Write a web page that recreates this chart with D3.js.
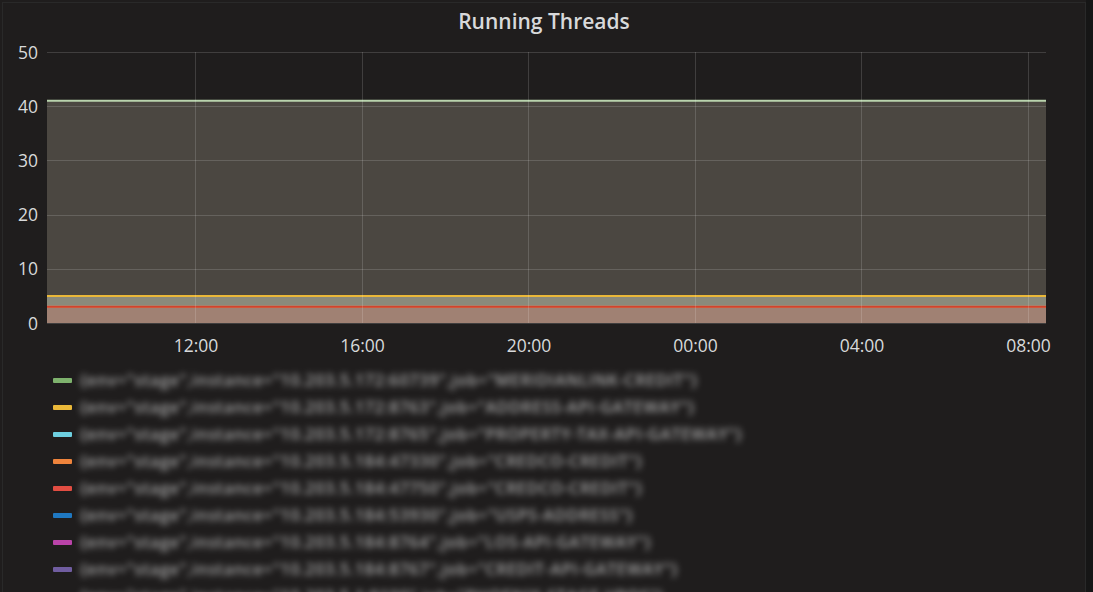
<!DOCTYPE html>
<html><head><meta charset="utf-8">
<script src="https://cdnjs.cloudflare.com/ajax/libs/d3/7.8.5/d3.min.js"></script>
<style>
html,body{margin:0;padding:0;background:#161616;}
svg{display:block;}
</style></head>
<body>
<svg id="chart" width="1093" height="592"></svg>
<script>
// ---- data ----
const title = "Running Threads";
const times = ["2019-01-01T08:26","2019-01-01T10:26","2019-01-01T12:26","2019-01-01T14:26","2019-01-01T16:26","2019-01-01T18:26","2019-01-01T20:26","2019-01-01T22:26","2019-01-02T00:26","2019-01-02T02:26","2019-01-02T04:26","2019-01-02T06:26","2019-01-02T08:26"];
const seriesNames = [
  '{env="stage",instance="10.203.5.172:60739",job="MERIDIANLINK-CREDIT"}',
  '{env="stage",instance="10.203.5.172:8763",job="ADDRESS-API-GATEWAY"}',
  '{env="stage",instance="10.203.5.172:8765",job="PROPERTY-TAX-API-GATEWAY"}',
  '{env="stage",instance="10.203.5.184:47330",job="CREDCO-CREDIT"}',
  '{env="stage",instance="10.203.5.184:47750",job="CREDCO-CREDIT"}',
  '{env="stage",instance="10.203.5.184:53930",job="USPS-ADDRESS"}',
  '{env="stage",instance="10.203.5.184:8764",job="LOS-API-GATEWAY"}',
  '{env="stage",instance="10.203.5.184:8767",job="CREDIT-API-GATEWAY"}',
  '{env="stage",instance="10.203.5.1:9100",job="PHOENIX-STAGE-VPOS"}'
];
const s1 = [41,41,41,41,41,41,41,41,41,41,41,41,41];
const s2 = [5,5,5,5,5,5,5,5,5,5,5,5,5];
const s3 = [3,3,3,3,3,3,3,3,3,3,3,3,3];
const s4 = [3,3,3,3,3,3,3,3,3,3,3,3,3];
const s5 = [3,3,3,3,3,3,3,3,3,3,3,3,3];
const s6 = [0,0,0,0,0,0,0,0,0,0,0,0,0];
const s7 = [0,0,0,0,0,0,0,0,0,0,0,0,0];
const s8 = [0,0,0,0,0,0,0,0,0,0,0,0,0];
const s9 = [0,0,0,0,0,0,0,0,0,0,0,0,0];
const seriesValues = [s1,s2,s3,s4,s5,s6,s7,s8,s9];
const yTicks = [0,10,20,30,40,50];
const xTickLabels = ["12:00","16:00","20:00","00:00","04:00","08:00"];
const xTickTimes = ["2019-01-01T12:00","2019-01-01T16:00","2019-01-01T20:00","2019-01-02T00:00","2019-01-02T04:00","2019-01-02T08:00"];

// ---- styles ----
const lineColors = ["#b9d3ad","#eab839","#6ed0e0","#ef843c","#d0432e","#1f78c1","#ba43a9","#705da0","#508642"];
const swatchColors = ["#7eb26d","#eab839","#6ed0e0","#ef843c","#e24d42","#1f78c1","#ba43a9","#705da0","#cccccc"];
const fillColors = ["#4b4741","#8a8a7b","#a3857a","#a3857a","#a08173",null,null,null,null];

const parse = d3.utcParse("%Y-%m-%dT%H:%M");
const svg = d3.select("#chart");
const W = 1093, H = 592;

// panel
svg.append("rect").attr("x",0).attr("y",0).attr("width",1086).attr("height",H).attr("fill","#1f1d1d");
svg.append("rect").attr("x",2.5).attr("y",2.5).attr("width",1083).attr("height",H).attr("fill","none").attr("stroke","#292929");

svg.append("text").attr("x",544).attr("y",29).attr("text-anchor","middle")
  .attr("font-family","'Open Sans', sans-serif").attr("font-weight",600).attr("font-size",21)
  .attr("fill","#d8d9da").text(title);

const L=47, R=1046, T=52, B=323;
const x = d3.scaleUtc().domain([parse(times[0]), parse(times[times.length-1])]).range([L,R]);
const y = d3.scaleLinear().domain([0,50]).range([B,T]);

const g = svg.append("g");
const xt = xTickTimes.map(parse);

// fills
seriesValues.forEach((vals,i)=>{
  if(!fillColors[i]) return;
  const area = d3.area().x((d,j)=>x(parse(times[j]))).y0(y(0)).y1(d=>y(d));
  g.append("path").datum(vals).attr("d",area).attr("fill",fillColors[i]);
});

// grid
const grid = svg.append("g");
yTicks.forEach(t=>{
  grid.append("line").attr("x1",L).attr("x2",R).attr("y1",Math.round(y(t))+0.5).attr("y2",Math.round(y(t))+0.5)
   .attr("stroke","#ffffff").attr("stroke-opacity",0.15);
});
xt.forEach(t=>{
  grid.append("line").attr("x1",Math.round(x(t))+0.5).attr("x2",Math.round(x(t))+0.5).attr("y1",T).attr("y2",B)
   .attr("stroke","#ffffff").attr("stroke-opacity",0.15);
});

// lines
const order = [0,1,2,3,4];
order.forEach(i=>{
  const line = d3.line().x((d,j)=>x(parse(times[j]))).y(d=>y(d));
  g.append("path").datum(seriesValues[i]).attr("d",line).attr("fill","none")
   .attr("stroke",lineColors[i]).attr("stroke-width",2);
});

// axes
const yAxis = d3.axisLeft(y).tickValues(yTicks).tickSize(0).tickPadding(9);
const ya = svg.append("g").attr("transform",`translate(${L},0)`).call(yAxis);
const xAxis = d3.axisBottom(x).tickValues(xt).tickSize(0).tickPadding(17).tickFormat((d,i)=>xTickLabels[i]);
const xa = svg.append("g").attr("transform",`translate(0,${B})`).call(xAxis);
[ya,xa].forEach(a=>{
  a.select(".domain").remove();
  a.selectAll("text").attr("fill","#d8d9da").attr("font-size",17.5).attr("font-family","'Open Sans', sans-serif");
});
ya.selectAll("text").attr("dy","0.35em");

// legend
const defs = svg.append("defs");
defs.append("filter").attr("id","blur").attr("x","-5%").attr("y","-60%").attr("width","110%").attr("height","220%")
  .append("feGaussianBlur").attr("stdDeviation",3);
const lg = svg.append("g");
seriesNames.forEach((n,i)=>{
  const yy = 380 + i*27;
  lg.append("rect").attr("x",53).attr("y",yy-2).attr("width",19).attr("height",5).attr("rx",1).attr("fill",swatchColors[i]);
  lg.append("text").attr("x",80).attr("y",yy+6).attr("font-family","'Open Sans', sans-serif").attr("font-size",16)
    .attr("font-weight",600).attr("letter-spacing",0.7)
    .attr("fill","#a8a8a8").attr("filter","url(#blur)").text(n);
});
</script>
</body></html>
